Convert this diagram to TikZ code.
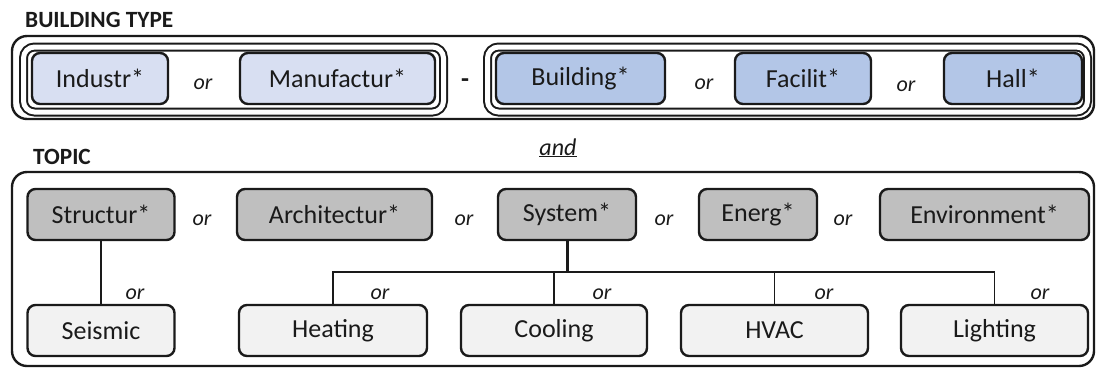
\documentclass[tikz,border=0pt]{standalone}
\usepackage{fontspec}
\setmainfont{Carlito}
\definecolor{inkc}{HTML}{1A1A1A}
\definecolor{typeA}{HTML}{D8DFF2}
\definecolor{typeB}{HTML}{B3C6E7}
\definecolor{topicA}{HTML}{BFBFBF}
\definecolor{topicB}{HTML}{F2F2F2}
\tikzset{
  term/.style={draw=inkc, line width=2.4pt, rounded corners=8pt, minimum height=51pt,
    inner sep=0pt, text=inkc, font=\fontsize{26}{30}\selectfont},
  typeone/.style={term, fill=typeA},
  typetwo/.style={term, fill=typeB},
  topicmain/.style={term, fill=topicA},
  topicsub/.style={term, fill=topicB},
  frame/.style={draw=inkc, line width=2.4pt, rounded corners=15pt, inner sep=0pt},
  group/.style={draw=inkc, line width=2pt, double=white, double distance=5pt,
    rounded corners=11pt, inner sep=0pt},
  orlbl/.style={anchor=base, inner sep=0pt, text=inkc, font=\fontsize{22}{26}\selectfont\itshape},
  heading/.style={anchor=base west, inner sep=0pt, text=inkc, font=\fontsize{23.3}{27}\selectfont\bfseries},
  link/.style={draw=inkc, line width=1.5pt},
  trunk/.style={draw=inkc, line width=3pt}
}
\begin{document}
\begin{tikzpicture}[x=1pt,y=-1pt]
\useasboundingbox (0,0) rectangle (1096,368);

% ---- building type ----
\node[heading] (bthead) at (25,27) {BUILDING TYPE};
\node[frame, minimum width=1082pt, minimum height=83pt] (btframe) at (553,77.5) {};
\node[group, minimum width=420pt, minimum height=65pt] (grpone) at (233.5,79.5) {};
\node[group, minimum width=600pt, minimum height=65pt] (grptwo) at (787.5,79.5) {};

\node[typeone, minimum width=136pt] (ind) at (100,78.5) {Industr*};
\node[typeone, minimum width=195pt] (man) at (337.5,78.5) {Manufactur*};
\node[typetwo, minimum width=169pt] (bld) at (580.5,78.5) {Building*};
\node[typetwo, minimum width=136pt] (fac) at (803,78.5) {Facilit*};
\node[typetwo, minimum width=138pt] (hal) at (1013,78.5) {Hall*};

\node[orlbl] (or1) at (203,89) {or};
\node[anchor=base, inner sep=0pt, text=inkc, font=\fontsize{26}{30}\selectfont\bfseries] (hyph) at (465,87) {-};
\node[orlbl] (or2) at (704,89) {or};
\node[orlbl] (or3) at (906,91) {or};

% ---- conjunction ----
\node[anchor=base, inner sep=0pt, text=inkc, font=\fontsize{24}{28}\selectfont\itshape] (andlbl) at (558,155) {\underline{and}};

% ---- topic ----
\node[heading] (tphead) at (33,164) {TOPIC};
\node[frame, minimum width=1082pt, minimum height=194pt] (tpframe) at (553,269) {};

\node[topicmain, minimum width=147pt] (str) at (101,214.5) {Structur*};
\node[topicmain, minimum width=195pt] (arc) at (334.5,214.5) {Architectur*};
\node[topicmain, minimum width=138pt] (sys) at (567,214.5) {System*};
\node[topicmain, minimum width=118pt] (ene) at (758,214.5) {Energ*};
\node[topicmain, minimum width=209pt] (env) at (984.5,214.5) {Environment*};

\node[orlbl] (or4) at (202,225) {or};
\node[orlbl] (or5) at (464,225) {or};
\node[orlbl] (or6) at (664,225) {or};
\node[orlbl] (or7) at (843,225) {or};

\node[topicsub, minimum width=147pt] (sei) at (101,330.5) {Seismic};
\node[topicsub, minimum width=188pt] (hea) at (333,330.5) {Heating};
\node[topicsub, minimum width=186pt] (coo) at (554,330.5) {Cooling};
\node[topicsub, minimum width=187pt] (hva) at (774.5,330.5) {HVAC};
\node[topicsub, minimum width=187pt] (lig) at (994.5,330.5) {Lighting};

% ---- connectors ----
\coordinate (bus) at (567,272);
\draw[link] (str) -- (sei);
\draw[trunk] (sys.south) -- (bus);
\draw[link] (hea.north) |- (bus -| lig.north) -- (lig.north);
\draw[link] (coo.north) -- (coo.north |- bus);
\draw[link] (hva.north) -- (hva.north |- bus);

\node[orlbl] (or8) at (135,299) {or};
\node[orlbl] (or9) at (380,299) {or};
\node[orlbl] (or10) at (602,299) {or};
\node[orlbl] (or11) at (824,299) {or};
\node[orlbl] (or12) at (1040,299) {or};
\end{tikzpicture}
\end{document}
